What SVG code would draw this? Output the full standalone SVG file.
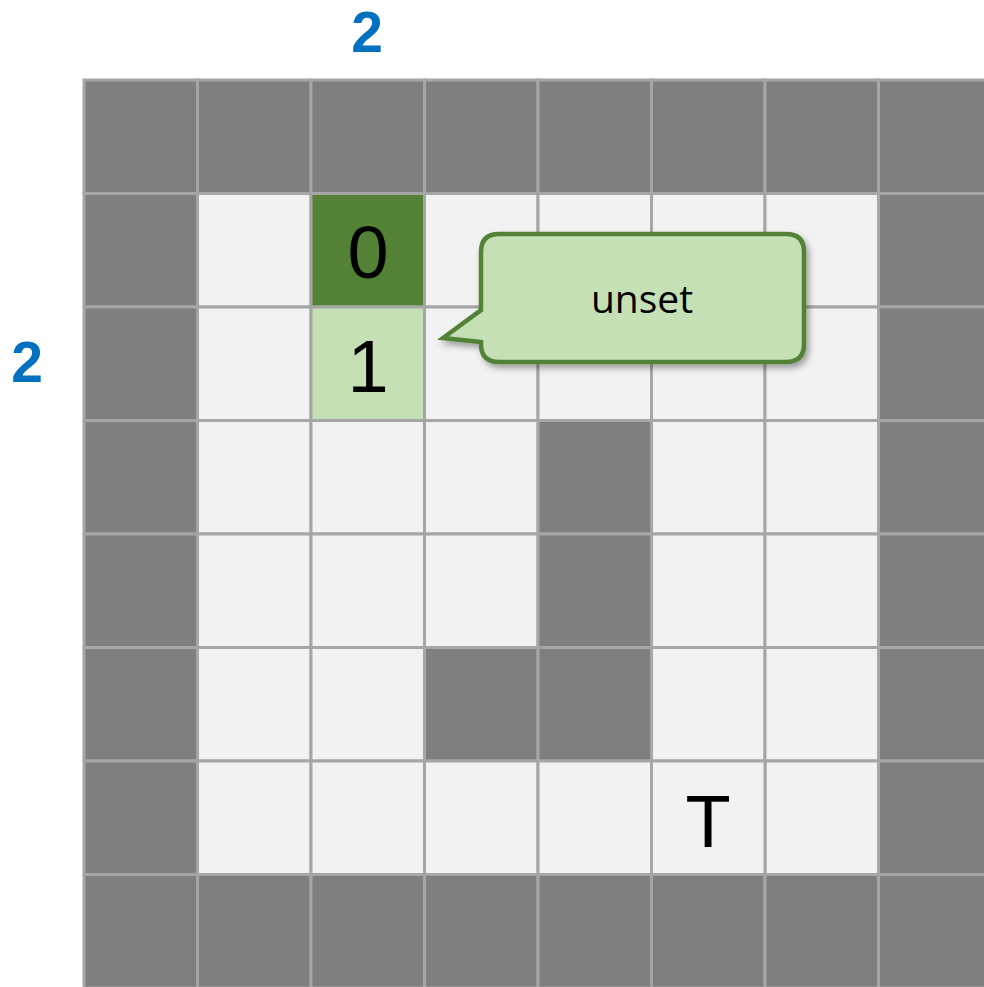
<svg xmlns="http://www.w3.org/2000/svg" width="984" height="987" viewBox="0 0 984 987">
<style>
.w{fill:#7f7f7f;stroke:#a6a6a6;stroke-width:3}
.f{fill:#f2f2f2;stroke:#a6a6a6;stroke-width:3}
.g0{fill:#538135;stroke:#a6a6a6;stroke-width:3}
.g1{fill:#c5e0b4;stroke:#a6a6a6;stroke-width:3}
.cell{font-family:"Liberation Sans",Arial,sans-serif;font-size:74px;fill:#000;text-anchor:middle}
.ax{font-family:"Liberation Sans",Arial,sans-serif;font-size:57px;font-weight:bold;fill:#0070c0;text-anchor:middle}
.lbl{font-family:"Open Sans","Liberation Sans",sans-serif;font-size:39px;fill:#000;text-anchor:middle}
</style>
<defs>
<filter id="sh" x="-10%" y="-10%" width="130%" height="140%">
<feDropShadow dx="3" dy="4" stdDeviation="3" flood-color="#000" flood-opacity="0.35"/>
</filter>
</defs>
<g id="grid">
<rect class="w" x="84" y="80" width="113.5" height="113.5"/>
<rect class="w" x="197.5" y="80" width="113.5" height="113.5"/>
<rect class="w" x="311" y="80" width="113.5" height="113.5"/>
<rect class="w" x="424.5" y="80" width="113.5" height="113.5"/>
<rect class="w" x="538" y="80" width="113.5" height="113.5"/>
<rect class="w" x="651.5" y="80" width="113.5" height="113.5"/>
<rect class="w" x="765" y="80" width="113.5" height="113.5"/>
<rect class="w" x="878.5" y="80" width="113.5" height="113.5"/>
<rect class="w" x="84" y="193.5" width="113.5" height="113.5"/>
<rect class="f" x="197.5" y="193.5" width="113.5" height="113.5"/>
<rect class="f" x="424.5" y="193.5" width="113.5" height="113.5"/>
<rect class="f" x="538" y="193.5" width="113.5" height="113.5"/>
<rect class="f" x="651.5" y="193.5" width="113.5" height="113.5"/>
<rect class="f" x="765" y="193.5" width="113.5" height="113.5"/>
<rect class="w" x="878.5" y="193.5" width="113.5" height="113.5"/>
<rect class="w" x="84" y="307" width="113.5" height="113.5"/>
<rect class="f" x="197.5" y="307" width="113.5" height="113.5"/>
<rect class="f" x="424.5" y="307" width="113.5" height="113.5"/>
<rect class="f" x="538" y="307" width="113.5" height="113.5"/>
<rect class="f" x="651.5" y="307" width="113.5" height="113.5"/>
<rect class="f" x="765" y="307" width="113.5" height="113.5"/>
<rect class="w" x="878.5" y="307" width="113.5" height="113.5"/>
<rect class="w" x="84" y="420.5" width="113.5" height="113.5"/>
<rect class="f" x="197.5" y="420.5" width="113.5" height="113.5"/>
<rect class="f" x="311" y="420.5" width="113.5" height="113.5"/>
<rect class="f" x="424.5" y="420.5" width="113.5" height="113.5"/>
<rect class="w" x="538" y="420.5" width="113.5" height="113.5"/>
<rect class="f" x="651.5" y="420.5" width="113.5" height="113.5"/>
<rect class="f" x="765" y="420.5" width="113.5" height="113.5"/>
<rect class="w" x="878.5" y="420.5" width="113.5" height="113.5"/>
<rect class="w" x="84" y="534" width="113.5" height="113.5"/>
<rect class="f" x="197.5" y="534" width="113.5" height="113.5"/>
<rect class="f" x="311" y="534" width="113.5" height="113.5"/>
<rect class="f" x="424.5" y="534" width="113.5" height="113.5"/>
<rect class="w" x="538" y="534" width="113.5" height="113.5"/>
<rect class="f" x="651.5" y="534" width="113.5" height="113.5"/>
<rect class="f" x="765" y="534" width="113.5" height="113.5"/>
<rect class="w" x="878.5" y="534" width="113.5" height="113.5"/>
<rect class="w" x="84" y="647.5" width="113.5" height="113.5"/>
<rect class="f" x="197.5" y="647.5" width="113.5" height="113.5"/>
<rect class="f" x="311" y="647.5" width="113.5" height="113.5"/>
<rect class="w" x="424.5" y="647.5" width="113.5" height="113.5"/>
<rect class="w" x="538" y="647.5" width="113.5" height="113.5"/>
<rect class="f" x="651.5" y="647.5" width="113.5" height="113.5"/>
<rect class="f" x="765" y="647.5" width="113.5" height="113.5"/>
<rect class="w" x="878.5" y="647.5" width="113.5" height="113.5"/>
<rect class="w" x="84" y="761" width="113.5" height="113.5"/>
<rect class="f" x="197.5" y="761" width="113.5" height="113.5"/>
<rect class="f" x="311" y="761" width="113.5" height="113.5"/>
<rect class="f" x="424.5" y="761" width="113.5" height="113.5"/>
<rect class="f" x="538" y="761" width="113.5" height="113.5"/>
<rect class="f" x="765" y="761" width="113.5" height="113.5"/>
<rect class="w" x="878.5" y="761" width="113.5" height="113.5"/>
<rect class="w" x="84" y="874.5" width="113.5" height="113.5"/>
<rect class="w" x="197.5" y="874.5" width="113.5" height="113.5"/>
<rect class="w" x="311" y="874.5" width="113.5" height="113.5"/>
<rect class="w" x="424.5" y="874.5" width="113.5" height="113.5"/>
<rect class="w" x="538" y="874.5" width="113.5" height="113.5"/>
<rect class="w" x="651.5" y="874.5" width="113.5" height="113.5"/>
<rect class="w" x="765" y="874.5" width="113.5" height="113.5"/>
<rect class="w" x="878.5" y="874.5" width="113.5" height="113.5"/>
</g>
<g id="cell0">
<rect class="g0" x="311" y="193.5" width="113.5" height="113.5"/>
<text class="cell" x="368" y="278">0</text>
</g>
<g id="cell1">
<rect class="g1" x="311" y="307" width="113.5" height="113.5"/>
<text class="cell" x="368" y="392">1</text>
</g>
<g id="target">
<rect class="f" x="651.5" y="761" width="113.5" height="113.5"/>
<text class="cell" x="708" y="847">T</text>
</g>
<g id="axis-labels">
<text class="ax" x="367" y="52">2</text>
<text class="ax" x="27" y="382">2</text>
</g>
<g id="callout">
<path d="M 499,234 H 786 Q 804,234 804,252 V 344 Q 804,362 786,362 H 499 Q 481,362 481,344 V 342 L 443,338 L 481,310 V 252 Q 481,234 499,234 Z" fill="#c5e0b4" stroke="#538135" stroke-width="4.5" stroke-linejoin="miter" filter="url(#sh)"/>
<text class="lbl" x="642" y="313">unset</text>
</g>
<g id="connectors"></g>
</svg>
